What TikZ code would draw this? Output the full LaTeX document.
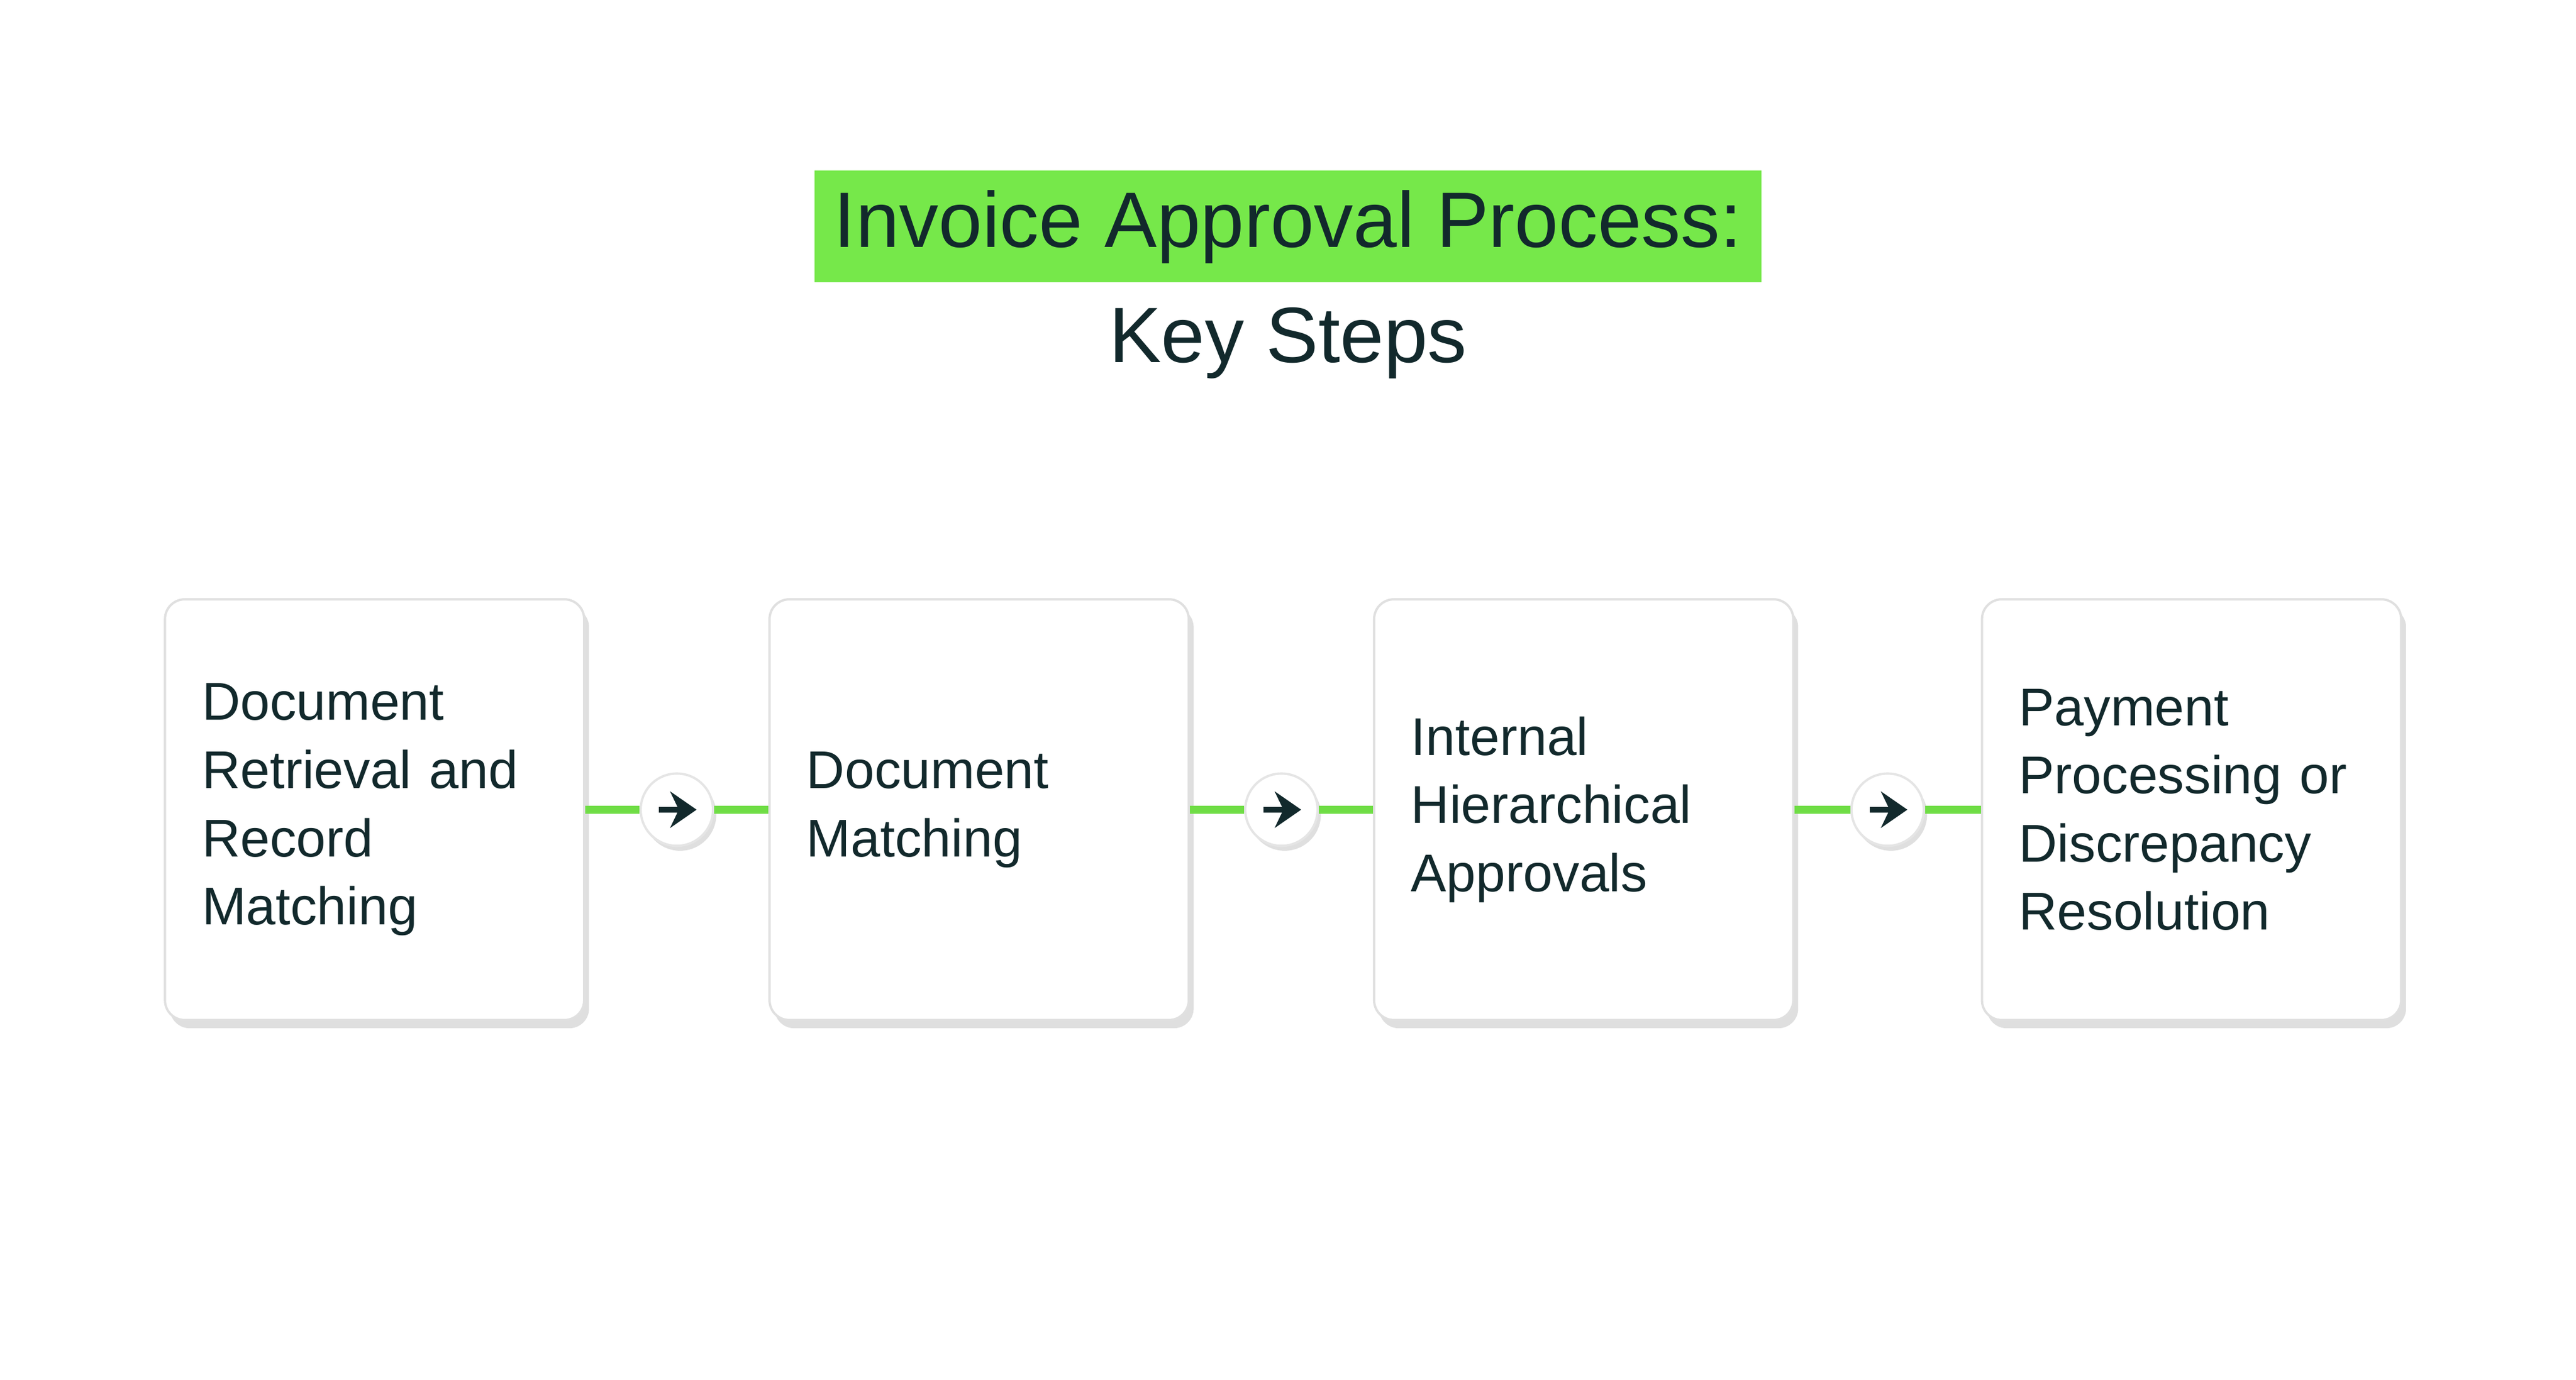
\documentclass[tikz,border=0pt]{standalone}
\usepackage{fontspec}
\setmainfont{Liberation Sans}
\usetikzlibrary{positioning,shadows,arrows.meta}
\definecolor{inkdark}{HTML}{12292C}
\definecolor{brandgreen}{HTML}{6FDD45}
\definecolor{hilite}{HTML}{76E84A}
\tikzset{%
    >={Stealth[width=2.2mm,length=1.6mm]},
    stepbox/.style = {
        rectangle, rounded corners=1.2mm, draw=black!12, fill=white,
        minimum width=2.55cm, minimum height=2.56cm,
        drop shadow={shadow xshift=0.3mm, shadow yshift=-0.5mm, opacity=0.25},
        text width=2.1cm, align=left, font=\fontsize{9.2}{11.8}\selectfont,
        text=inkdark
    },
    hop/.style = {
        circle, draw=black!10, fill=white, minimum size=0.44cm, inner sep=0pt,
        drop shadow={shadow xshift=0.2mm, shadow yshift=-0.3mm, opacity=0.25}
    },
    link/.style = {brandgreen, line width=0.5mm},
}
\begin{document}
\begin{tikzpicture}[x=0.01cm,y=-0.01cm]
    \useasboundingbox (0,0) rectangle (1568,840);
        % Title
        \node (titleA) [fill=hilite, minimum width=5.37cm, minimum height=0.55cm,
                font=\fontsize{13.6}{16}\selectfont, text=inkdark]
                at (784,138) {Invoice Approval Process:};
        \node (titleB) [font=\fontsize{13.6}{16}\selectfont, text=inkdark,
                below=0.02cm of titleA] {Key Steps};
        % Steps
        \node (retrieve) [stepbox] at (228,493)
                {Document\\Retrieval and\\Record\\Matching};
        \node (match)    [stepbox] at (596,493) {Document\\Matching\\[1.2em]};
        \node (approve)  [stepbox] at (964,493)
                {Internal\\Hierarchical\\Approvals};
        \node (pay)      [stepbox] at (1334,493)
                {Payment\\Processing or\\Discrepancy\\Resolution};
        % Connectors
        \foreach \a/\b/\c in {retrieve/match/hopA, match/approve/hopB, approve/pay/hopC}{
            \path (\a.east) -- node (\c) [hop] {} (\b.west);
            \draw[link] (\a.east) -- (\c.west);
            \draw[link] (\c.east) -- (\b.west);
            \draw[->, inkdark, line width=0.35mm]
                ([xshift=-1.1mm]\c.center) -- ([xshift=1.2mm]\c.center);
        }
\end{tikzpicture}
\end{document}
